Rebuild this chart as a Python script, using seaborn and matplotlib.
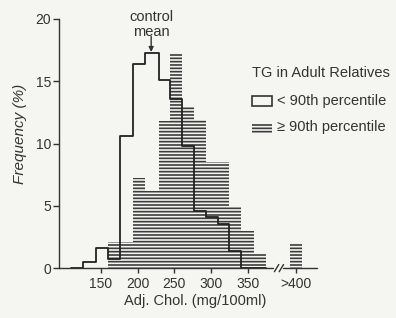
import matplotlib
matplotlib.use("Agg")
import matplotlib.pyplot as plt
import seaborn as sns
from matplotlib.patches import Rectangle

# bin edges (mg/100ml)
edges = [108.9, 125.5, 143.6, 159.5, 176.3, 193.5, 210.3, 228.4, 244.3,
         260.2, 276.3, 292.6, 309.6, 324.6, 340.9, 358.6, 374.9]
# < 90th percentile (open outline)
low_tg = [0, 0.5, 1.6, 0.7, 10.6, 16.4, 17.3, 15.1, 13.6,
          9.8, 4.6, 4.1, 3.5, 1.4, 0, 0]
# >= 90th percentile (hatched)
high_tg = [0, 0, 0, 2.1, 2.1, 7.2, 6.2, 11.8, 17.2,
           12.9, 11.9, 8.5, 8.5, 4.9, 3.0, 1.1]
# the ">400" group
over_edges = [406.6, 423.5]
over_val = [1.9]

xticks = [150, 200, 250, 300, 350, 415]
xticklabels = ["150", "200", "250", "300", "350", ">400"]
yticks = [0, 5, 10, 15, 20]
control_mean = 218.4

centers = [(a + b) / 2 for a, b in zip(edges[:-1], edges[1:])]

sns.set_style("white")
plt.rcParams["font.family"] = ["Liberation Sans", "DejaVu Sans"]
plt.rcParams["hatch.linewidth"] = 1.2

bg = "#f5f5f2"
W, H = 396, 318
fig = plt.figure(figsize=(W / 100, H / 100), dpi=100, facecolor=bg)
ax = fig.add_axes([59 / W, 50 / H, 258 / W, 249 / H], facecolor=bg)

sns.histplot(x=centers, weights=high_tg, bins=edges, element="bars", fill=False,
             color="#3c3c3c", linewidth=0, hatch="-----", ax=ax)
sns.histplot(x=[415], weights=over_val, bins=over_edges, element="bars", fill=False,
             color="#3c3c3c", linewidth=0, hatch="-----", ax=ax)
sns.histplot(x=centers, weights=low_tg, bins=edges, element="step", fill=False,
             color="#222222", linewidth=1.3, ax=ax)

ax.set_xlim(93, 444)
ax.set_ylim(0, 20)
ax.set_xlabel("")
ax.set_ylabel("")
ax.set_xticks(xticks)
ax.set_xticklabels(xticklabels)
ax.set_yticks(yticks)
ax.tick_params(axis="both", direction="out", colors="#333333", labelcolor="#333333",
               labelsize=10, width=1, left=True, bottom=True)
ax.tick_params(axis="y", length=4.5, pad=1)
ax.tick_params(axis="x", length=3.5, pad=3)
for s in ["top", "right", "bottom"]:
    ax.spines[s].set_visible(False)
ax.spines["left"].set_color("#333333")
ax.spines["left"].set_linewidth(1)
ax.spines["left"].set_bounds(0, 20)

# broken x axis
ax.plot([93, 384.5], [0, 0], color="#333333", lw=1, clip_on=False)
ax.plot([398, 444], [0, 0], color="#333333", lw=1, clip_on=False)
for x0 in [386, 392.5]:
    ax.plot([x0, x0 + 6], [-0.3, 0.28], color="#333333", lw=1, clip_on=False)

# control mean arrow
ax.annotate("", xy=(control_mean, 17.35), xytext=(control_mean, 18.6),
            arrowprops=dict(arrowstyle="-|>", color="#333333", lw=1,
                            mutation_scale=7, shrinkA=0, shrinkB=0),
            annotation_clip=False)
ax.text(control_mean, 19.55, "control\nmean", ha="center", va="center",
        fontsize=10.5, color="#333333", linespacing=1.05, clip_on=False)

# axis labels
fig.text(195 / W, 1 - 301 / H, "Adj. Chol. (mg/100ml)", ha="center", va="center",
         fontsize=10.5, color="#333333")
fig.text(20 / W, 1 - 134 / H, "Frequency (%)", ha="center", va="center",
         rotation=90, fontsize=11, style="italic", color="#333333")

# legend drawn by hand
fig.text(252 / W, 1 - 73 / H, "TG in Adult Relatives", ha="left", va="center",
         fontsize=10.5, color="#333333")
fig.add_artist(Rectangle((252 / W, 1 - 106 / H), 20 / W, 10 / H, transform=fig.transFigure,
                         facecolor="none", edgecolor="#333333", lw=1.2))
fig.text(277 / W, 1 - 101 / H, "< 90th percentile", ha="left", va="center",
         fontsize=10.5, color="#333333")
fig.add_artist(Rectangle((252 / W, 1 - 133 / H), 20 / W, 10 / H, transform=fig.transFigure,
                         facecolor="none", edgecolor="#3c3c3c", lw=0, hatch="-----"))
fig.text(277 / W, 1 - 127 / H, "\u2265 90th percentile", ha="left", va="center",
         fontsize=10.5, color="#333333")

fig.savefig("out.png", dpi=100, facecolor=bg)
